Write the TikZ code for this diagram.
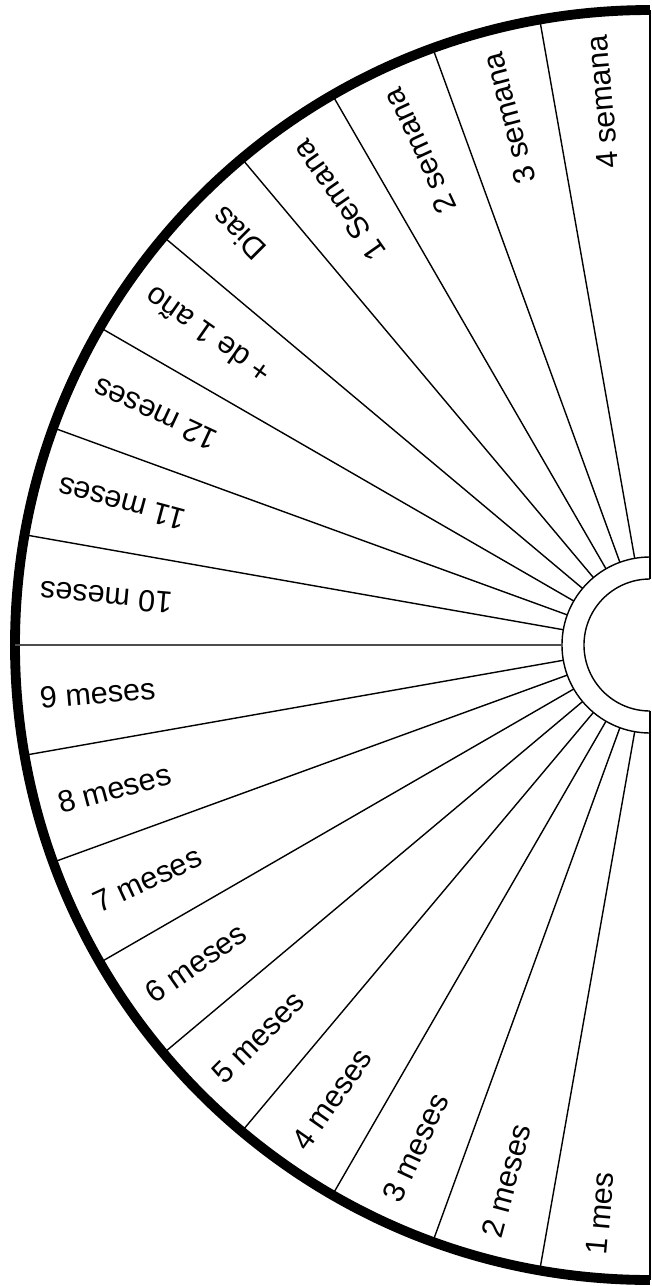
\documentclass[tikz,border=0pt]{standalone}
\usepackage{fontspec}
\setmainfont{Liberation Sans}
\begin{document}
\begin{tikzpicture}[font=\fontsize{8.7}{10}\selectfont,
  rayo/.style={line width=0.4pt},
  borde/.style={line width=2.8pt},
  etiqueta/.style={inner sep=0pt}]
\useasboundingbox (-6.50,-6.41) rectangle (0.02,6.45);
% borde exterior y anillo central
\draw[borde] (0,6.35) arc[start angle=90, end angle=270, radius=6.35];
\draw[rayo] (0,0.88) arc[start angle=90, end angle=270, radius=0.88];
\draw[rayo] (0,0.66) arc[start angle=90, end angle=270, radius=0.66];
% rayos
\foreach \a in {100,110,...,170,190,200,...,260}
  \draw[rayo] (\a:0.88) -- (\a:6.35);
\draw[rayo, black!70, line width=0.6pt] (180:0.88) -- (180:6.35);
\draw[rayo] (90:0.66) -- (90:6.35);
\draw[rayo] (270:0.66) -- (270:6.35);
% sectores de arriba
\foreach \t [count=\i] in {4 semana,3 semana,2 semana,1 Semana,Dias,+ de 1 año,12 meses,11 meses,10 meses}{
  \pgfmathsetmacro\ang{85+10*\i}
  \node[etiqueta, anchor=east, rotate=\ang] (s\i) at (\ang:6.13) {\t};
}
% sectores de abajo
\foreach \t [count=\i] in {9 meses,8 meses,7 meses,6 meses,5 meses,4 meses,3 meses,2 meses,1 mes}{
  \pgfmathsetmacro\ang{175+10*\i}
  \node[etiqueta, anchor=west, rotate=\ang-180] (m\i) at (\ang:6.13) {\t};
}
\end{tikzpicture}
\end{document}
